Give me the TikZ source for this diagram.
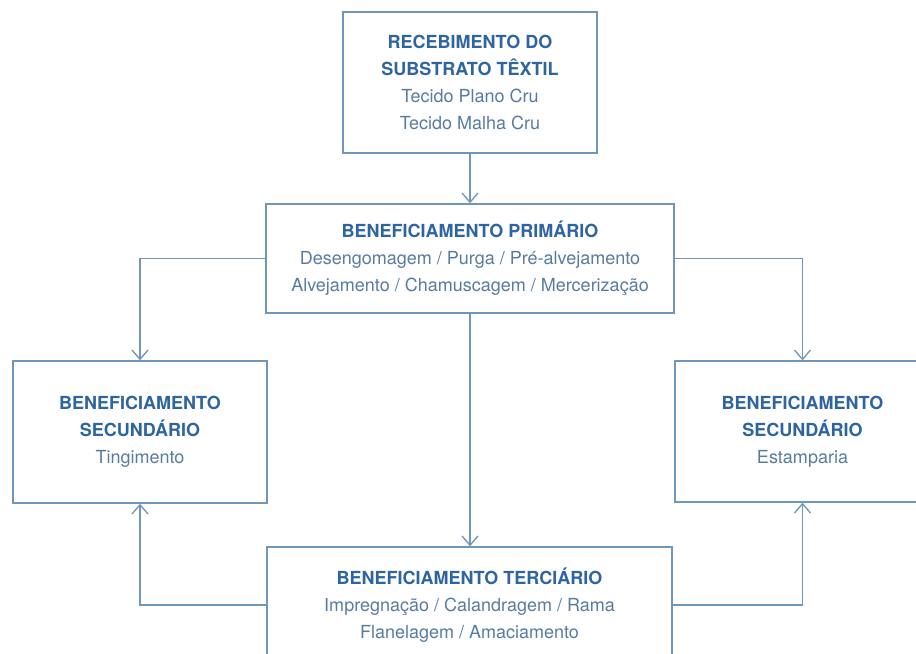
\documentclass[tikz,border=0pt]{standalone}
\usepackage{fontspec}
\setmainfont{TeX Gyre Heros}
\usetikzlibrary{arrows.meta}

\definecolor{boxline}{RGB}{112,150,186}
\definecolor{titleblue}{RGB}{46,100,160}
\definecolor{bodyblue}{RGB}{88,124,160}

\tikzset{
  etapa/.style={draw=boxline,line width=1pt,fill=white,align=center,inner sep=0pt,
    text=bodyblue,font={\fontsize{13.5pt}{20.25pt}\selectfont}},
  fluxo/.style={draw=boxline,line width=1pt,-{Straight Barb[length=7pt,width=12pt]}}
}
\newcommand{\titulo}[1]{{\bfseries\color{titleblue}#1}}

\begin{document}
\begin{tikzpicture}[x=0.75pt,y=-0.75pt]
\useasboundingbox (0,0) rectangle (916,653);
\clip (0,0) rectangle (916,653);
\node[etapa,minimum width=190.5pt,minimum height=105.75pt] (receb) at (470,82.5)
  {\titulo{RECEBIMENTO DO}\\\titulo{SUBSTRATO TÊXTIL}\\Tecido Plano Cru\\Tecido Malha Cru};
\node[etapa,minimum width=306pt,minimum height=81.75pt] (prim) at (470,258.5)
  {\titulo{BENEFICIAMENTO PRIMÁRIO}\\Desengomagem / Purga / Pré-alvejamento\\Alvejamento / Chamuscagem / Mercerização};
\node[etapa,minimum width=190.5pt,minimum height=106.5pt] (secA) at (140,432)
  {\titulo{BENEFICIAMENTO}\\\titulo{SECUNDÁRIO}\\Tingimento};
\node[etapa,minimum width=191.25pt,minimum height=105.75pt] (secB) at (802.5,431.5)
  {\titulo{BENEFICIAMENTO}\\\titulo{SECUNDÁRIO}\\Estamparia};
\node[etapa,minimum width=303.75pt,minimum height=87pt] (terc) at (469.5,605)
  {\titulo{BENEFICIAMENTO TERCIÁRIO}\\Impregnação / Calandragem / Rama\\Flanelagem / Amaciamento};
\draw[fluxo] (receb.south) -- (prim.north);
\draw[fluxo] (prim.west) -| (secA.north);
\draw[fluxo] (prim.east) -| (secB.north);
\draw[fluxo] (prim.south) -- (prim.south |- terc.north);
\draw[fluxo] (terc.west) -| (secA.south);
\draw[fluxo] (terc.east) -| (secB.south);
\end{tikzpicture}
\end{document}
